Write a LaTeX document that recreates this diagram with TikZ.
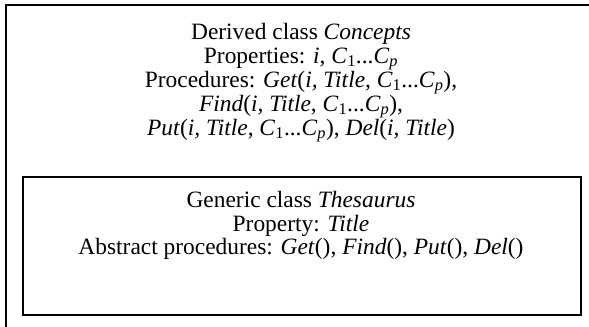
\documentclass[tikz,border=0pt]{standalone}
\usepackage{fontspec}
\setmainfont{Liberation Serif}
\newcommand\CsubOne{\textit{C}\textsubscript{1}}
\newcommand\CsubP{\textit{C}\textsubscript{\textit{p}}}
\newcommand\CRange{\CsubOne...\CsubP}
\begin{document}
\begin{tikzpicture}[x=1bp,y=-1bp,
  frame/.style={draw=black,line width=2bp},
  txt/.style={anchor=base,inner sep=0pt,font=\fontsize{23.5}{28}\selectfont}]
\useasboundingbox (0,0) rectangle (589,326);
\clip (0,0) rectangle (589,326);
\draw[frame] (6,5) rectangle (640,380);
\draw[frame] (23,177) rectangle (581,315);
\node[txt] (c1) at (301,39) {Derived class \textit{Concepts}};
\node[txt] (c2) at (301,63) {Properties: \textit{i}, \CRange};
\node[txt] (c3) at (301,87) {Procedures: \textit{Get}(\textit{i, Title}, \CRange),};
\node[txt] (c4) at (301,111) {\textit{Find}(\textit{i, Title}, \CRange),};
\node[txt] (c5) at (301,135) {\textit{Put}(\textit{i, Title}, \CRange), \textit{Del}(\textit{i, Title})};
\node[txt] (t1) at (301,207) {Generic class \textit{Thesaurus}};
\node[txt] (t2) at (301,231) {Property: \textit{Title}};
\node[txt] (t3) at (301,254) {Abstract procedures: \textit{Get}(), \textit{Find}(), \textit{Put}(), \textit{Del}()};
\end{tikzpicture}
\end{document}
